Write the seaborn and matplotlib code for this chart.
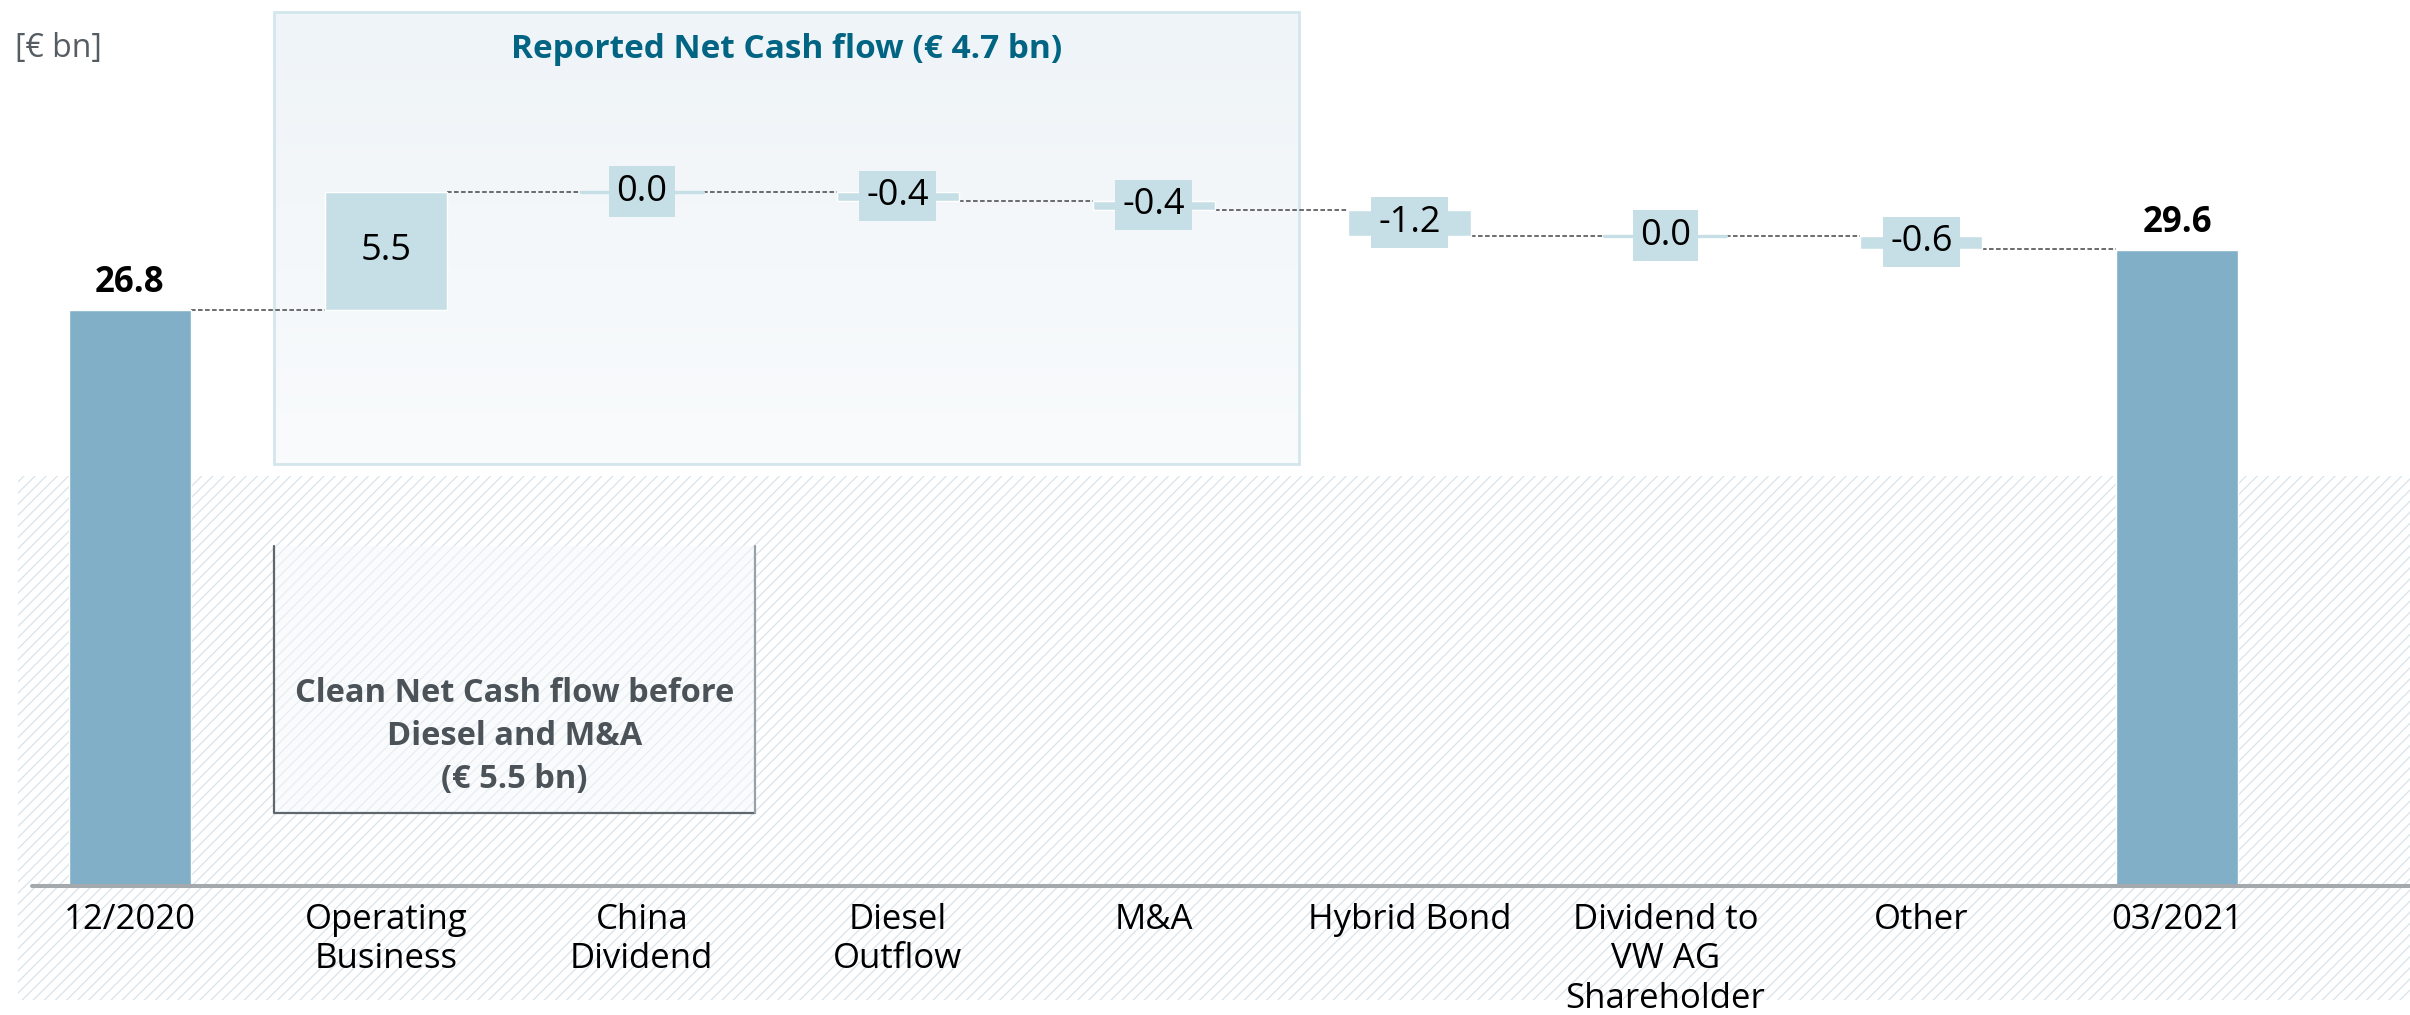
import numpy as np
import matplotlib
matplotlib.use("Agg")
import matplotlib.pyplot as plt
from matplotlib.patches import Rectangle
from matplotlib.colors import LinearSegmentedColormap
import seaborn as sns

# Data (EUR bn)
categories = ["12/2020", "Operating\nBusiness", "China\nDividend", "Diesel\nOutflow", "M&A",
              "Hybrid Bond", "Dividend to\nVW AG\nShareholder", "Other", "03/2021"]
total_cats = ["12/2020", "03/2021"]
total_values = [26.8, 29.6]
delta_cats = categories[1:-1]
delta_values = [5.5, 0.0, -0.42, -0.42, -1.21, 0.0, -0.6]

title_text = "Reported Net Cash flow (€ 4.7 bn)"
clean_text = "Clean Net Cash flow before\nDiesel and M&A\n(€ 5.5 bn)"
unit_text = "[€ bn]"

total_color = "#80afc7"
delta_color = "#c6dfe6"

sns.set_style("white")
plt.rcParams['font.family'] = ['Open Sans', 'DejaVu Sans']
plt.rcParams['hatch.linewidth'] = 0.9

fig = plt.figure(figsize=(24.1, 10.15), dpi=100)
fig.patch.set_facecolor("white")
ax = fig.add_axes([0, 129 / 1015, 1, 886 / 1015])
ax.patch.set_visible(False)

bar_w = 0.477

# striped background in the lower part
ax.add_patch(Rectangle((18 / 2410, 15 / 1015), 1, 524 / 1015, transform=fig.transFigure,
                       fill=False, hatch="///", edgecolor="#d9e3ea", lw=0, clip_on=False, zorder=0))

# reported net cash flow box with soft gradient
grad = np.linspace(0, 1, 100).reshape(-1, 1)
gcmap = LinearSegmentedColormap.from_list("g", ["#eff4f8", "#f9fbfc"])
ax.imshow(grad, extent=(0.563, 4.568, 19.63, 40.65), aspect="auto", cmap=gcmap, zorder=0.5, origin="upper")
ax.add_patch(Rectangle((0.563, 19.63), 4.568 - 0.563, 40.65 - 19.63, fill=False,
                       edgecolor="#d3e6ec", lw=2, zorder=0.6))
ax.text(2.564, 38.93, title_text, ha="center", va="center", fontsize=24, fontweight="bold",
        color="#006482", zorder=5)

# clean net cash flow box
ax.add_patch(Rectangle((0.563, 3.40), 2.442 - 0.563, 15.81 - 3.40, facecolor="#f5f8fa", alpha=0.5,
                       edgecolor="none", zorder=0.7))
ax.plot([0.563, 0.563, 2.442], [15.81, 3.40, 3.40], color="#5f676c", lw=1.6, zorder=0.8)
ax.plot([2.442, 2.442], [3.40, 15.81], color="#9aa1a6", lw=1.6, zorder=0.8)
ax.text(1.503, 6.95, clean_text, ha="center", va="center", fontsize=23.5, fontweight="bold",
        color="#4b5359", linespacing=1.4, zorder=5)

# total bars via seaborn
sns.barplot(x=total_cats, y=total_values, order=categories, color=total_color, width=bar_w,
            saturation=1, ax=ax, zorder=2)

# floating delta bars
level = total_values[0]
pos = np.arange(len(categories))
levels = [level]
for i, d in enumerate(delta_values):
    x = pos[i + 1]
    if d == 0:
        ax.plot([x - bar_w / 2, x + bar_w / 2], [level, level], color=delta_color, lw=2.4, zorder=2)
    else:
        ax.bar(x, d, bottom=level, width=bar_w, color=delta_color, zorder=2)
    mid = level + d / 2
    ax.text(x, mid, f"{d:.1f}", ha="center", va="center", fontsize=26, color="black", zorder=4,
            bbox=dict(boxstyle="square,pad=0.2", facecolor=delta_color, edgecolor="none"))
    level = level + d
    levels.append(level)

# connectors
for i in range(len(categories) - 1):
    ax.plot([pos[i] + bar_w / 2, pos[i + 1] - bar_w / 2], [levels[i], levels[i]],
            color="#444444", lw=1.1, ls=(0, (3, 1.6)), zorder=1.5)

# total labels
for c, v in zip(total_cats, total_values):
    ax.text(categories.index(c), v + 1.25, f"{v:.1f}", ha="center", va="center", fontsize=25,
            fontweight="bold", color="black", zorder=4)

# axis baseline
ax.plot([-0.383, 8.91], [0, 0], color="#a3a9ad", lw=2.9, clip_on=False, zorder=3)

ax.set_xlim(-130 / 255.9, (2410 - 130) / 255.9)
ax.set_ylim(0, 886 / 21.5)
ax.set_xticks(pos)
ax.set_xticklabels(categories, fontsize=25, color="black", linespacing=1.22)
ax.tick_params(axis="x", length=0, pad=12)
ax.set_yticks([])
ax.set_xlabel("")
ax.set_ylabel("")
for s in ax.spines.values():
    s.set_visible(False)

fig.text(15 / 2410, 1 - 48 / 1015, unit_text, ha="left", va="center", fontsize=23, color="#555d63")

fig.savefig("out.png", dpi=100)
